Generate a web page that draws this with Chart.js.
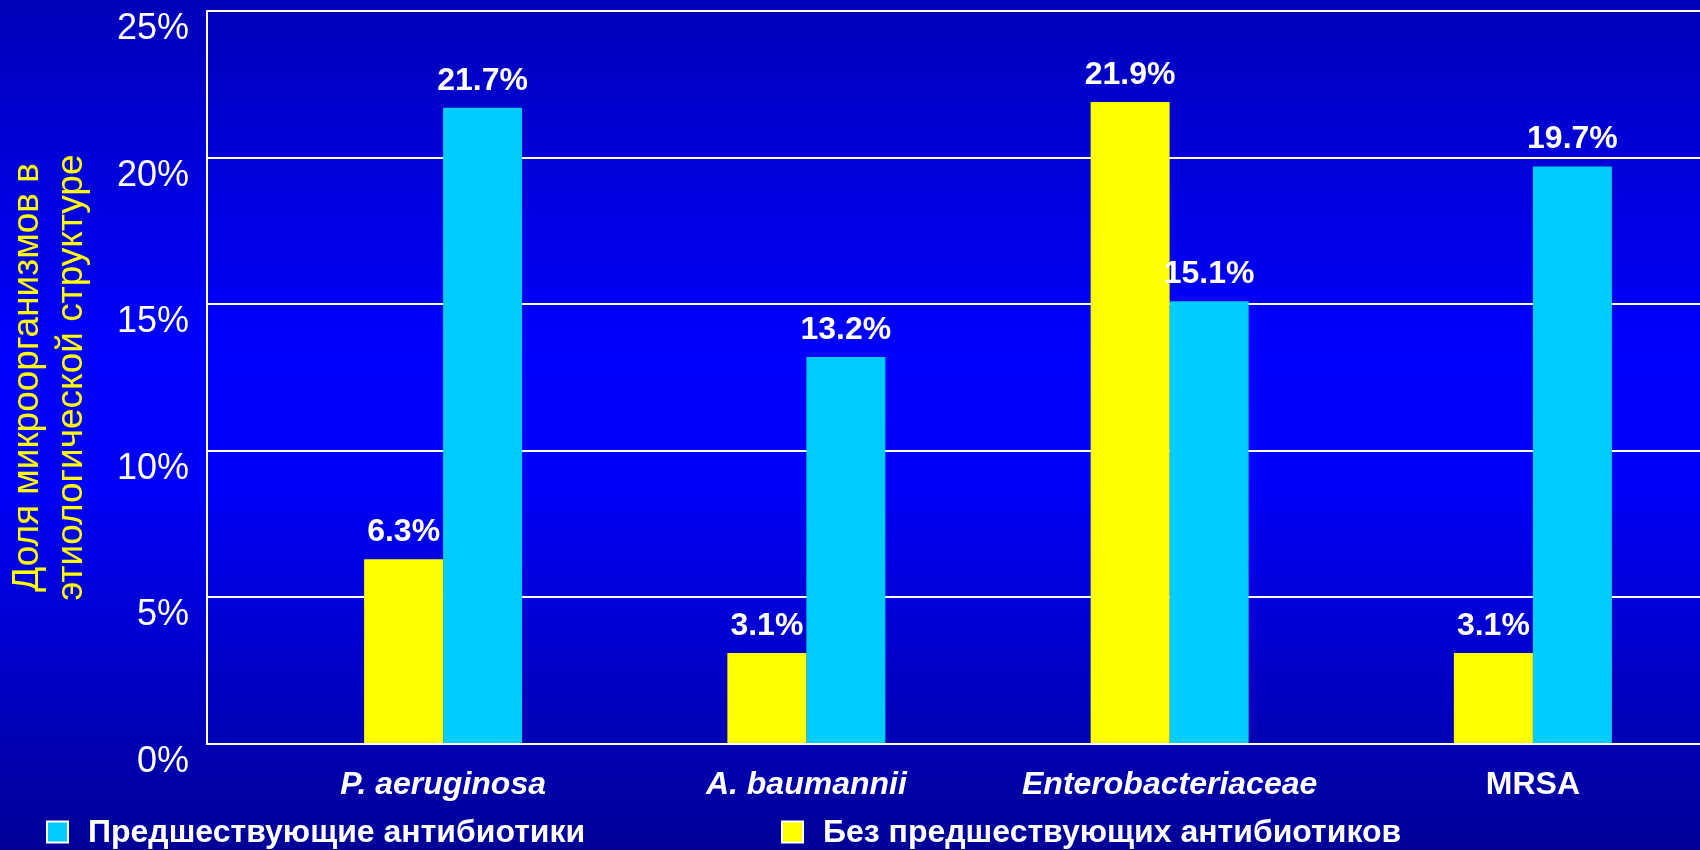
<!DOCTYPE html>
<html lang="ru">
<head>
<meta charset="utf-8">
<script src="https://cdn.jsdelivr.net/npm/chart.js@4.4.1/dist/chart.umd.min.js"></script>
<style>
  html, body { margin: 0; padding: 0; overflow: hidden; background: #0000c0; }
  #wrap { width: 1700px; height: 850px; }
</style>
</head>
<body>
<div id="wrap"><canvas id="chart" width="1700" height="850"></canvas></div>
<script>
// Organisms on the x axis
const categories = ['P. aeruginosa', 'A. baumannii', 'Enterobacteriaceae', 'MRSA'];
// Share of each organism, % (no prior antibiotics / prior antibiotics)
const withoutPrior = [6.3, 3.1, 21.9, 3.1];
const withPrior = [21.7, 13.2, 15.1, 19.7];
const seriesNames = ['Без предшествующих антибиотиков', 'Предшествующие антибиотики'];
const yTicks = [0, 5, 10, 15, 20, 25];
const yTitle = ['Доля микроорганизмов в', 'этиологической структуре'];

const FONT = '"Liberation Sans", Arial, Helvetica, sans-serif';
const YELLOW = '#ffff00';
const CYAN = '#00ccff';

// Slide-style vertical blue gradient behind everything
const backdrop = {
  id: 'backdrop',
  beforeDraw(chart) {
    const { ctx, width, height } = chart;
    const g = ctx.createLinearGradient(0, 0, 0, height);
    g.addColorStop(0, '#0000b8');
    g.addColorStop(0.42, '#0000ff');
    g.addColorStop(0.58, '#0000f6');
    g.addColorStop(1, '#000096');
    ctx.save();
    ctx.fillStyle = g;
    ctx.fillRect(0, 0, width, height);
    ctx.restore();
  }
};

// Percent labels above every bar
const valueLabels = {
  id: 'valueLabels',
  afterDatasetsDraw(chart) {
    const { ctx } = chart;
    ctx.save();
    ctx.fillStyle = '#ffffff';
    ctx.font = 'bold 32px ' + FONT;
    ctx.textAlign = 'center';
    ctx.textBaseline = 'alphabetic';
    chart.data.datasets.forEach((ds, di) => {
      const meta = chart.getDatasetMeta(di);
      meta.data.forEach((bar, i) => {
        const v = ds.data[i].y;
        ctx.fillText(v.toFixed(1) + '%', bar.x, bar.y - 18);
      });
    });
    ctx.restore();
  }
};

// Legend row along the bottom edge (prior-antibiotics item first)
const bottomLegend = {
  id: 'bottomLegend',
  afterDraw(chart, args, opts) {
    const { ctx } = chart;
    const order = [1, 0];
    ctx.save();
    ctx.font = 'bold 32px ' + FONT;
    ctx.textBaseline = 'middle';
    ctx.textAlign = 'left';
    order.forEach((di, k) => {
      const ds = chart.data.datasets[di];
      const x = opts.xs[k];
      const y = opts.y;
      const s = opts.box;
      ctx.fillStyle = ds.backgroundColor;
      ctx.fillRect(x, y - s / 2, s, s);
      ctx.strokeStyle = '#ffffff';
      ctx.lineWidth = 2;
      ctx.strokeRect(x, y - s / 2, s, s);
      ctx.fillStyle = '#ffffff';
      ctx.fillText(ds.label, x + s + 20, y + 1);
    });
    ctx.restore();
  }
};

const toPoints = arr => arr.map((v, i) => ({ x: i, y: v }));

new Chart(document.getElementById('chart'), {
  type: 'bar',
  data: {
    datasets: [
      { label: seriesNames[0], data: toPoints(withoutPrior), backgroundColor: YELLOW },
      { label: seriesNames[1], data: toPoints(withPrior), backgroundColor: CYAN }
    ]
  },
  options: {
    responsive: false,
    animation: false,
    devicePixelRatio: 1,
    categoryPercentage: 0.435,
    barPercentage: 1.0,
    layout: { padding: { top: 11, left: 0, right: 0, bottom: 0 } },
    plugins: {
      legend: { display: false },
      tooltip: { enabled: false },
      bottomLegend: { xs: [47, 782], y: 832, box: 21 }
    },
    scales: {
      x: {
        type: 'linear',
        offset: false,
        min: -0.65,
        max: 3.46,
        afterBuildTicks(scale) {
          scale.ticks = categories.map((_, i) => ({ value: i }));
        },
        afterFit(scale) {
          scale.height = 106;
          scale.paddingLeft = 0;
          scale.paddingRight = 0;
        },
        grid: { display: false },
        border: { display: true, color: '#ffffff', width: 2 },
        ticks: {
          color: '#ffffff',
          padding: 14,
          maxRotation: 0,
          autoSkip: false,
          callback: v => categories[v],
          font: ctx => ({
            family: FONT,
            size: 32,
            weight: 'bold',
            style: categories[ctx.index] === 'MRSA' ? 'normal' : 'italic'
          })
        }
      },
      y: {
        min: 0,
        max: 25,
        afterBuildTicks(scale) {
          scale.ticks = yTicks.map(v => ({ value: v }));
        },
        afterFit(scale) {
          scale.width = 207;
          scale.paddingTop = 0;
          scale.paddingBottom = 0;
        },
        grid: { color: '#ffffff', lineWidth: 2, drawTicks: false },
        border: { display: true, color: '#ffffff', width: 2 },
        ticks: {
          color: '#ffffff',
          padding: 18,
          // labels hang just below their gridline
          labelOffset: 18,
          font: { family: FONT, size: 36 },
          callback: v => v + '%'
        },
        title: {
          display: true,
          text: yTitle,
          color: YELLOW,
          font: { family: FONT, size: 37, lineHeight: 44 / 37 },
          padding: { top: 6, bottom: 0 }
        }
      }
    }
  },
  plugins: [backdrop, valueLabels, bottomLegend]
});
</script>
</body>
</html>
